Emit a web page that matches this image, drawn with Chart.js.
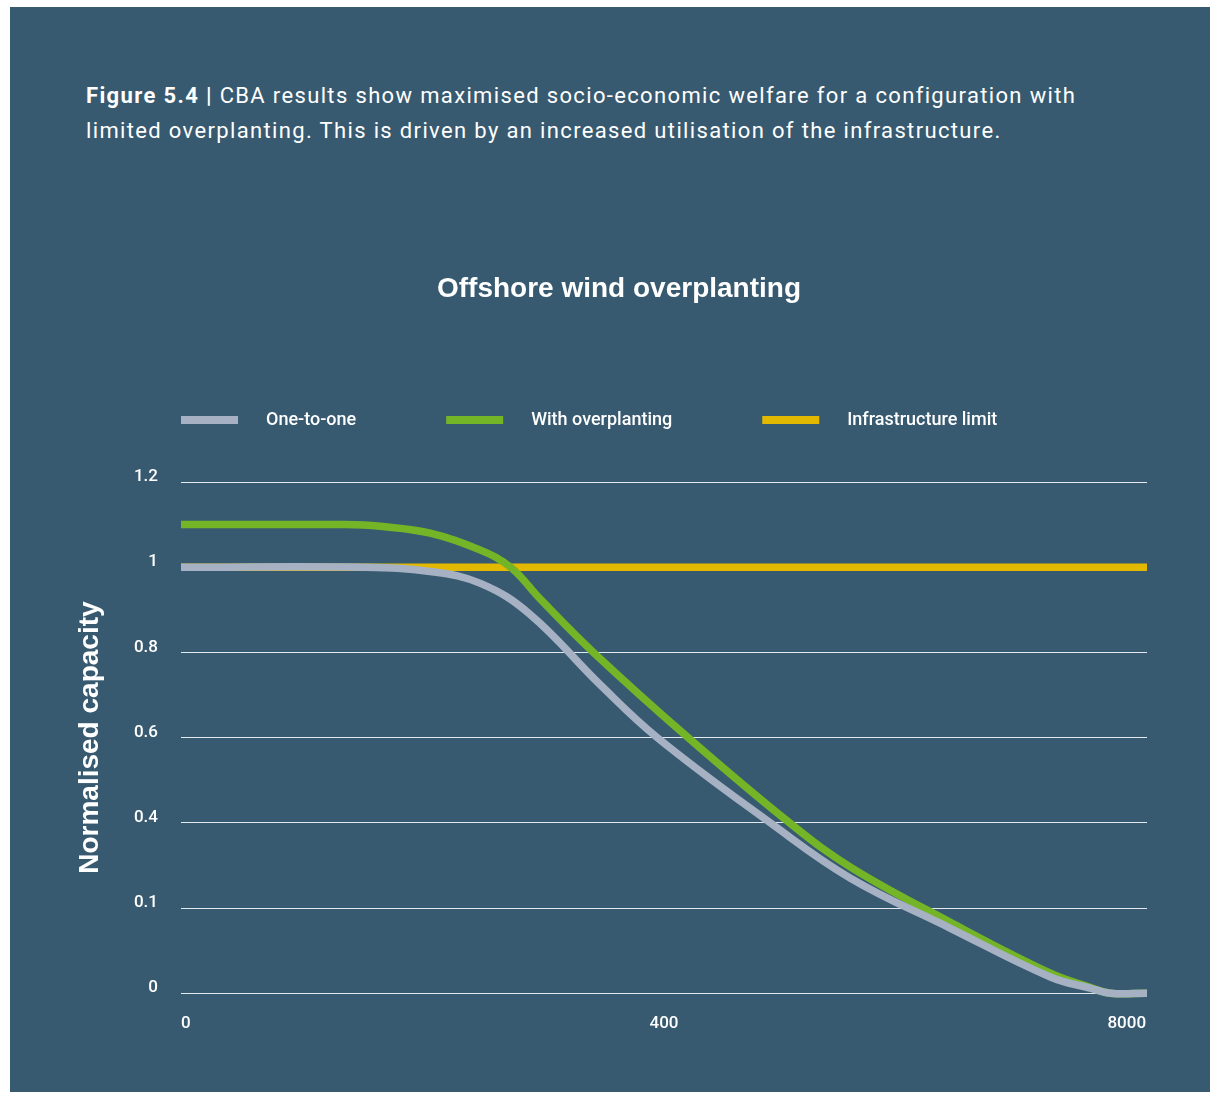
<!DOCTYPE html>
<html>
<head>
<meta charset="utf-8">
<script src="https://cdn.jsdelivr.net/npm/chart.js@4.4.1/dist/chart.umd.min.js"></script>
<style>
  html, body { margin: 0; padding: 0; background: #ffffff; }
  body { width: 1210px; height: 1102px; position: relative; overflow: hidden; }
  #panel { position: absolute; left: 10px; top: 7px; width: 1200px; height: 1085px; background: #385a70; }
  #caption { position: absolute; left: 86px; top: 78px; width: 1100px; color: #ffffff;
             font-family: Roboto, "Noto Sans", sans-serif; font-size: 22px; line-height: 35px;
             letter-spacing: 1.35px; }
  #caption b { font-weight: 700; }
  #wrap { position: absolute; left: 10px; top: 250px; width: 1200px; height: 842px; }
</style>
</head>
<body>
<div id="panel"></div>
<div id="caption"><b>Figure 5.4 |</b> CBA results show maximised socio-economic welfare for a configuration with<br>limited overplanting. This is driven by an increased utilisation of the infrastructure.</div>
<div id="wrap"><canvas id="chart" width="1200" height="842"></canvas></div>
<script>
// share of hours (0-100 along the axis) and normalised capacity
const oneToOneX = [0, 18.8, 25.8, 31.0, 36.1, 43.4, 49.3, 61.0, 69.3, 79.6, 90.0, 94.1, 96.2, 100];
const oneToOneY = [1.0, 1.0, 0.99, 0.962, 0.89, 0.724, 0.6, 0.4, 0.27, 0.153, 0.038, 0.012, 0, 0];

const overplantX = [0, 17, 20.6, 25.8, 31.0, 34.1, 37.2, 42.7, 52.5, 63.0, 69.3, 79.6, 90.0, 94.1, 96.2, 100];
const overplantY = [1.1, 1.1, 1.096, 1.08, 1.04, 1.0, 0.925, 0.8, 0.6, 0.4, 0.296, 0.167, 0.047, 0.014, 0, 0];

const limitX = [0, 100];
const limitY = [1, 1];

const seriesNames = ['One-to-one', 'With overplanting', 'Infrastructure limit'];

const yTickValues = [0, 0.2, 0.4, 0.6, 0.8, 1.0, 1.2];
const yTickLabels = ['0', '0.1', '0.4', '0.6', '0.8', '1', '1.2'];
const xTickValues = [0.5, 50, 97.9];
const xTickLabels = ['0', '400', '8000'];

// legend swatch: transparent lead, coloured bar, gap before text
const LEAD = 50, BAR = 57, GAP = 19;
function swatch(color) {
    const c = document.createElement('canvas');
    c.width = LEAD + BAR + GAP;
    c.height = 8;
    const g = c.getContext('2d');
    g.fillStyle = color;
    g.fillRect(LEAD, 0, BAR, 8);
    return c;
}

function points(xs, ys) {
    return xs.map((x, i) => ({ x: x, y: ys[i] }));
}

const colors = ['#a6b1c3', '#73b526', '#e2b900'];

Chart.defaults.font.family = 'Roboto, "Noto Sans", sans-serif';
Chart.defaults.color = '#ffffff';

new Chart(document.getElementById('chart').getContext('2d'), {
    type: 'line',
    data: {
        datasets: [
            { label: seriesNames[0], data: points(oneToOneX, oneToOneY) },
            { label: seriesNames[1], data: points(overplantX, overplantY) },
            { label: seriesNames[2], data: points(limitX, limitY) }
        ].map((d, i) => Object.assign(d, {
            borderColor: colors[i],
            backgroundColor: colors[i],
            borderWidth: 7.5,
            pointRadius: 0,
            pointHoverRadius: 0,
            pointStyle: swatch(colors[i]),
            fill: false,
            tension: 0.4
        }))
    },
    options: {
        responsive: false,
        animation: false,
        layout: { padding: { left: 81, right: 63, top: 0, bottom: 56.2 } },
        plugins: {
            title: {
                display: true,
                text: 'Offshore wind overplanting',
                color: '#ffffff',
                font: { family: '"Liberation Sans", Arial, sans-serif', size: 28, weight: 'bold' },
                padding: { top: 22.2, bottom: 65.6 }
            },
            legend: {
                position: 'top',
                align: 'start',
                labels: {
                    usePointStyle: true,
                    pointStyleWidth: LEAD + BAR + GAP,
                    padding: 40,
                    color: '#ffffff',
                    font: { size: 18, weight: '500' }
                }
            },
            tooltip: { enabled: false }
        },
        scales: {
            x: {
                type: 'linear',
                position: { y: 0 },
                min: 0,
                max: 100,
                grid: { display: false },
                border: { display: false },
                afterBuildTicks: s => { s.ticks = xTickValues.map(v => ({ value: v })); },
                ticks: {
                    padding: 12,
                    maxRotation: 0,
                    font: { size: 17, weight: '500' },
                    callback: (v, i) => xTickLabels[i]
                }
            },
            y: {
                min: -0.1,
                max: 1.3,
                grid: { color: '#e3e9ee', lineWidth: 1, drawTicks: false },
                border: { display: false },
                afterBuildTicks: s => { s.ticks = yTickValues.map(v => ({ value: v })); },
                afterFit: s => { s.width = 90; },
                ticks: {
                    padding: 23,
                    labelOffset: -5,
                    font: { size: 17, weight: '500' },
                    callback: (v, i) => yTickLabels[i]
                },
                title: {
                    display: true,
                    text: 'Normalised capacity',
                    color: '#ffffff',
                    font: { family: '"Liberation Sans", Arial, sans-serif', size: 28, weight: 'bold' },
                    padding: { top: -18, bottom: 0 }
                }
            }
        }
    }
});
</script>
</body>
</html>
